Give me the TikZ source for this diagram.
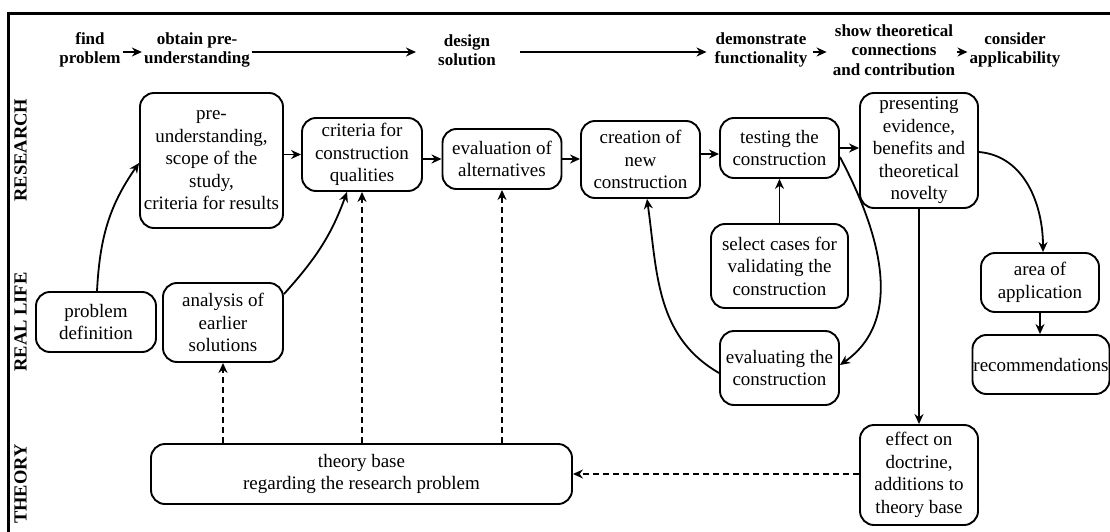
\documentclass[tikz,border=0pt]{standalone}
\usepackage{fontspec}
\setmainfont{Liberation Serif}
\usetikzlibrary{arrows.meta}
\begin{document}
\begin{tikzpicture}[x=1pt,y=1pt,
  box/.style={draw, line width=1.9pt, rounded corners=14pt, align=center,
              inner sep=2pt, font=\fontsize{19}{22.5}\selectfont},
  head/.style={align=center, inner xsep=2pt, inner ysep=1pt,
               font=\bfseries\fontsize{17}{19.5}\selectfont},
  lane/.style={rotate=90, font=\bfseries\fontsize{18.5}{20}\selectfont},
  arr/.style={line width=1.8pt, -{Stealth[length=10pt,width=9pt]}},
  darr/.style={arr, dash pattern=on 6pt off 4pt}]
\useasboundingbox (0,0) rectangle (1110,-532);

% frame
\draw[line width=2.8pt] (1110,-13.5) -- (8.5,-13.5) -- (8.5,-532);

% swimlane labels
\node[lane] (lres) at (20.5,-150) {RESEARCH};
\node[lane] (lreal) at (20.5,-322) {REAL LIFE};
\node[lane] (lthe) at (20.5,-484) {THEORY};

% phases along the top
\node[head] (hfind) at (90,-50) {find\\problem};
\node[head] (hobt) at (197,-50) {obtain pre-\\understanding};
\node[head] (hdes) at (467,-50) {design\\solution};
\node[head] (hdem) at (761,-50) {demonstrate\\functionality};
\node[head] (hshow) at (894,-50) {show theoretical\\connections\\and contribution};
\node[head] (hcons) at (1015,-50) {consider\\applicability};

\draw[arr] ([yshift=-2pt]hfind.east) -- ([yshift=-2pt]hobt.west);
\draw[arr, shorten >=20pt] ([yshift=-2pt]hobt.east) -- ([yshift=-2pt]hdes.west);
\draw[arr, shorten <=22pt, shorten >=6pt] ([yshift=-2pt]hdes.east) -- ([yshift=-2pt]hdem.west);
\draw[arr, shorten <=4pt, shorten >=4pt] ([yshift=-2pt]hdem.east) -- ([yshift=-2pt]hshow.west);
\draw[arr] ([yshift=-2pt]hshow.east) -- ([yshift=-2pt]hcons.west);

% process boxes
\node[box, minimum width=120pt, minimum height=60pt] (prob) at (96,-322) {problem\\definition};
\node[box, minimum width=143pt, minimum height=135pt] (pre) at (211.5,-160.5)
  {pre-\\understanding,\\scope of the\\study,\\criteria for results};
\node[box, minimum width=120pt, minimum height=79pt] (anal) at (223,-322.5)
  {analysis of\\earlier\\solutions};
\node[box, minimum width=120pt, minimum height=73pt] (crit) at (362,-154.5)
  {criteria for\\construction\\qualities};
\node[box, minimum width=119pt, minimum height=60pt] (evalalt) at (502,-159)
  {evaluation of\\alternatives};
\node[box, minimum width=119pt, minimum height=77pt] (create) at (640.5,-159.5)
  {creation of\\new\\construction};
\node[box, minimum width=119pt, minimum height=60pt] (test) at (779.5,-148)
  {testing the\\construction};
\node[box, minimum width=137pt, minimum height=84pt] (select) at (779.5,-266)
  {select cases for\\validating the\\construction};
\node[box, minimum width=119pt, minimum height=74pt] (evalcon) at (779.5,-368)
  {evaluating the\\construction};
\node[box, minimum width=118pt, minimum height=115pt] (pres) at (919,-150.5)
  {presenting\\evidence,\\benefits and\\theoretical\\novelty};
\node[box, minimum width=118pt, minimum height=59pt] (area) at (1040,-282.5)
  {area of\\application};
\node[box, minimum width=136pt, minimum height=59pt, inner sep=1pt] (recom) at (1041,-364.5)
  {recommendations};
\node[box, minimum width=118pt, minimum height=100pt] (effect) at (919,-475)
  {effect on\\doctrine,\\additions to\\theory base};
\node[box, minimum width=421pt, minimum height=60pt] (theory) at (361.5,-474)
  {theory base\\regarding the research problem};

% connectors
\draw[arr] ([xshift=1pt]prob.north) to[out=87, in=235] ([yshift=-2.5pt]pre.west);
\draw[arr] (pre.east |- crit.west) -- (crit.west);
\draw[arr] ([yshift=-12pt]anal.north east) to[out=48, in=250] ([xshift=-15pt]crit.south);
\draw[arr] (crit.east |- evalalt.west) -- (evalalt.west);
\draw[arr] (evalalt.east) -- (create.west |- evalalt.east);
\draw[arr] ([yshift=5.5pt]create.east) -- ([yshift=-6pt]test.west);
\draw[arr] (select.north) -- (test.south);
\draw[arr] (test.east) -- (pres.west |- test.east);
\draw[arr] ([yshift=-9pt]test.east) to[out=-62, in=35] ([yshift=3pt]evalcon.east);
\draw[arr] ([yshift=-5pt]evalcon.west) to[out=150, in=-82] ([xshift=6.5pt]create.south);
\draw[arr] ([yshift=-1.5pt]pres.east) to[out=-5, in=90] ([xshift=3pt]area.north);
\draw[arr] (area.south) -- (area.south |- recom.north);
\draw[arr] (pres.south) -- (effect.north);

% contributions of the theory base
\draw[darr] (theory.north -| anal.south) -- (anal.south);
\draw[darr] (theory.north -| crit.south) -- (crit.south);
\draw[darr] (theory.north -| evalalt.south) -- (evalalt.south);
\draw[darr] (effect.west |- theory.east) -- (theory.east);
\end{tikzpicture}
\end{document}
